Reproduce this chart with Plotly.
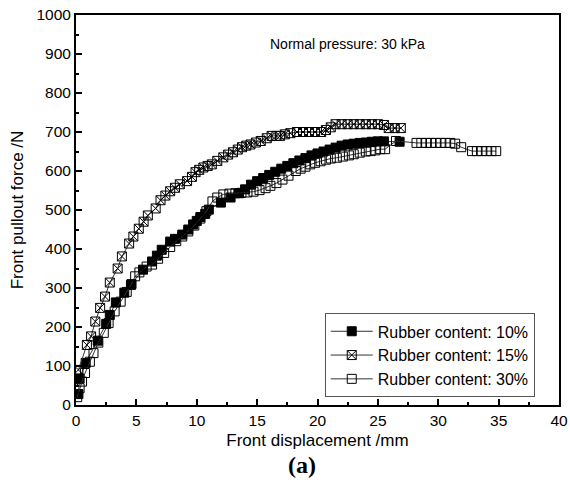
import plotly.graph_objects as go

# Rubber content 10% (filled squares)
x10 = [0.2, 0.3, 0.8, 1.8, 2.5, 2.8, 3.3, 4.0, 4.55, 5.55, 6.3, 6.7, 7.1, 7.8, 8.2, 8.8, 9.3, 9.7, 10.0, 10.3,
       10.7, 11.0, 12.0, 12.8, 13.5, 14.0, 14.5, 15.0, 15.5, 16.0, 16.5, 17.0, 17.5, 18.0, 18.5, 19.0, 19.5,
       20.0, 20.5, 21.0, 21.5, 22.0, 22.5, 23.0, 23.5, 24.0, 24.5, 25.0, 25.5, 26.8]
y10 = [28, 68, 108, 165, 208, 231, 263, 288, 308, 347, 368, 383, 398, 419, 426, 437, 450, 463, 472, 482,
       490, 501, 519, 532, 543, 553, 565, 574, 582, 590, 598, 606, 613, 620, 627, 633, 640,
       645, 650, 655, 660, 665, 668, 670, 672, 673, 675, 676, 676, 675]

# Rubber content 15% (crossed squares)
x15 = [0.2, 0.9, 1.25, 1.6, 2.0, 2.4, 2.8, 3.45, 3.8, 4.4, 4.75, 5.2, 5.6, 5.95, 6.6, 7.0, 7.4, 7.8, 8.2, 8.6,
       9.2, 9.6, 9.9, 10.2, 10.55, 10.9, 11.25, 11.7, 12.2, 12.6, 13.0, 13.4, 13.75, 14.1, 14.45, 14.9, 15.3,
       15.8, 16.2, 16.6, 16.9, 17.3, 17.75, 18.3, 18.8, 19.3, 19.8, 20.3, 20.7, 21.1, 21.5, 22.0, 22.5, 23.0,
       23.5, 24.0, 24.5, 25.0, 25.5, 25.9, 26.4, 26.9]
y15 = [90, 154, 176, 214, 249, 278, 314, 350, 381, 414, 432, 452, 470, 486, 504, 525, 537, 548, 557, 566,
       574, 585, 597, 603, 609, 613, 617, 626, 635, 642, 648, 655, 661, 665, 668, 673, 677,
       684, 690, 690, 690, 694, 697, 700, 700, 700, 700, 700, 705, 712, 720, 720, 720, 720,
       720, 720, 720, 720, 718, 710, 710, 710]

# Rubber content 30% (open squares)
x30 = [0.1, 0.3, 0.5, 0.75, 1.15, 1.45, 1.85, 2.3, 2.7, 3.2, 3.7, 4.2, 4.6, 4.9, 5.25, 5.85, 6.3, 6.8, 7.3,
       7.8, 8.3, 8.8, 9.3, 9.8, 10.3, 10.8, 11.3, 11.7, 12.2, 12.7, 13.2, 13.7, 14.2, 14.7, 15.2, 15.7, 16.1,
       16.6, 17.1, 17.6, 18.2, 18.6, 19.0, 19.4, 19.8, 20.25, 20.7, 21.1, 21.6, 22.1, 22.6, 23.0, 23.5, 24.0,
       24.4, 24.8, 25.2, 25.6, 26.5, 28.2, 28.6, 29.0, 29.4, 29.8, 30.2, 30.6, 31.0, 31.4, 31.9, 32.8, 33.2,
       33.6, 34.0, 34.4, 34.8]
y30 = [20, 43, 60, 82, 111, 133, 160, 185, 210, 240, 265, 290, 310, 330, 340, 355, 360, 375, 390,
       405, 420, 432, 445, 460, 478, 497, 522, 532, 540, 542, 543, 544, 545, 547, 551, 556, 562,
       569, 578, 588, 600, 606, 611, 617, 621, 625, 629, 632, 634, 637, 640, 643, 647, 650,
       651, 653, 656, 656, 677, 672, 672, 672, 672, 672, 672, 672, 672, 670, 661, 651, 651,
       651, 651, 651, 651]

names = ["Rubber content: 10%", "Rubber content: 15%", "Rubber content: 30%"]
xs_all = [x10, x15, x30]
ys_all = [y10, y15, y30]
symbols = ["square", "square-x-open", "square-open"]

FONT = "Arial, Liberation Sans, sans-serif"

fig = go.Figure()
for name, xs, ys, sym in zip(names, xs_all, ys_all, symbols):
    fig.add_trace(go.Scatter(
        x=xs, y=ys, name=name, mode="lines+markers",
        line=dict(color="#333333", width=1),
        marker=dict(symbol=sym, size=9, color="black",
                    line=dict(color="black", width=1)),
    ))

axis_common = dict(
    showline=True, linecolor="black", linewidth=2, mirror=True,
    ticks="inside", ticklen=6, tickwidth=1.5, tickcolor="black",
    showgrid=False, zeroline=False, automargin=False,
    tickfont=dict(family=FONT, size=15.5, color="black"),
)

fig.update_xaxes(range=[0, 40], dtick=5, tick0=0,
                 minor=dict(ticks="inside", ticklen=3, dtick=2.5, tickcolor="black", tickwidth=1.5),
                 title=dict(text="Front displacement /mm", font=dict(family=FONT, size=17, color="black"),
                            standoff=7),
                 **axis_common)
fig.update_yaxes(range=[0, 1000], dtick=100, tick0=0,
                 minor=dict(ticks="inside", ticklen=3, dtick=50, tickcolor="black", tickwidth=1.5),
                 title=dict(text="Front pullout force /N", font=dict(family=FONT, size=17, color="black"),
                            standoff=8),
                 **axis_common)

fig.add_annotation(x=0.562, y=0.925, xref="paper", yref="paper", showarrow=False,
                   xanchor="center", yanchor="middle",
                   text="Normal pressure: 30 kPa", font=dict(family=FONT, size=14, color="black"))
fig.add_annotation(x=0.467, y=-0.154, xref="paper", yref="paper", showarrow=False,
                   xanchor="center", yanchor="middle",
                   text="<b>(a)</b>", font=dict(family="Liberation Serif, Times New Roman, serif",
                                               size=24, color="black"))

fig.update_layout(
    width=570, height=492,
    margin=dict(l=76, r=11, t=15, b=87),
    paper_bgcolor="white", plot_bgcolor="white",
    legend=dict(x=0.515, y=0.235, xanchor="left", yanchor="top",
                bordercolor="#555555", borderwidth=1, bgcolor="white",
                font=dict(family=FONT, size=16, color="black"),
                tracegroupgap=0, itemwidth=42),
)

fig.write_html("out.html")
